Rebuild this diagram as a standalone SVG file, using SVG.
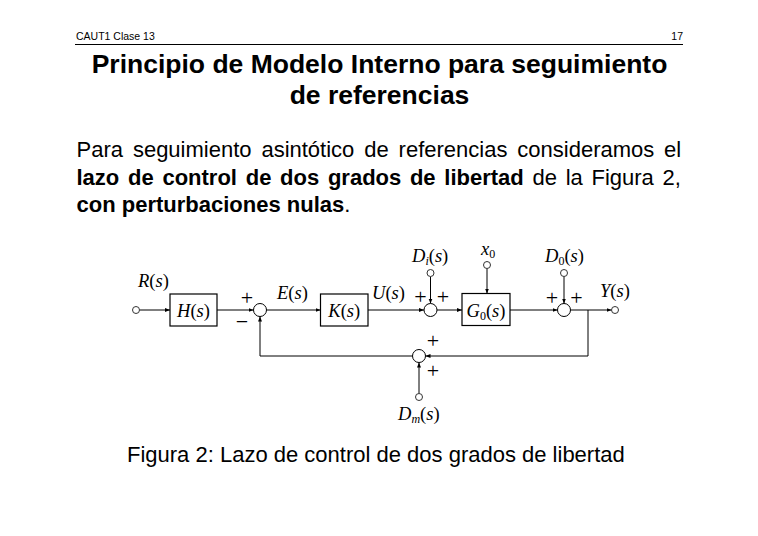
<svg xmlns="http://www.w3.org/2000/svg" width="758" height="536" viewBox="0 0 758 536">
<style>
.hdr{font-family:"Liberation Sans",Arial,sans-serif;font-size:10.5px;fill:#000}
.ttl{font-family:"Liberation Sans",Arial,sans-serif;font-size:26.5px;font-weight:bold;fill:#000}
.p{font-family:"Liberation Sans",Arial,sans-serif;font-size:22px;fill:#000}
.b{font-weight:bold}
.m{font-family:"Liberation Serif","Times New Roman",serif;font-size:18.5px;fill:#000}
.i{font-style:italic}
.sub{font-size:12px}
.box{fill:#fff;stroke:#000;stroke-width:1.2}
.sum{fill:#fff;stroke:#000;stroke-width:1}
.io{fill:#fff;stroke:#333;stroke-width:1}
.ln{fill:none;stroke:#000;stroke-width:1}
.sg{font-family:"Liberation Serif","Times New Roman",serif;font-size:22px;fill:#000;text-anchor:middle}
</style>
<defs>
<marker id="ah" viewBox="0 0 6 6" refX="6" refY="3" markerWidth="5" markerHeight="5" orient="auto" markerUnits="userSpaceOnUse">
<path d="M0,0.6 L6,3 L0,5.4 z" fill="#000"/>
</marker>
</defs>
<rect width="758" height="536" fill="#fff"/>

<g id="header">
<text class="hdr" x="76" y="39.5">CAUT1 Clase 13</text>
<text class="hdr" x="683" y="39.5" text-anchor="end">17</text>
<line x1="75" y1="44.5" x2="683" y2="44.5" stroke="#000" stroke-width="1"/>
</g>

<g id="title">
<text class="ttl" x="379.5" y="73" text-anchor="middle">Principio de Modelo Interno para seguimiento</text>
<text class="ttl" x="379.5" y="104" text-anchor="middle">de referencias</text>
</g>

<g id="paragraph">
<text class="p" y="157"><tspan x="76.5">Para</tspan><tspan x="132.9">seguimiento</tspan><tspan x="261.4">asintótico</tspan><tspan x="364.2">de</tspan><tspan x="398.6">referencias</tspan><tspan x="517.3">consideramos</tspan><tspan x="664.1">el</tspan></text>
<text class="p" y="185"><tspan class="b" x="76.5">lazo</tspan><tspan class="b" x="128">de</tspan><tspan class="b" x="162.4">control</tspan><tspan class="b" x="245.7">de</tspan><tspan class="b" x="280.1">dos</tspan><tspan class="b" x="327.9">grados</tspan><tspan class="b" x="409.9">de</tspan><tspan class="b" x="444.3">libertad</tspan><tspan x="532.5">de</tspan><tspan x="565.7">la</tspan><tspan x="591.5">Figura</tspan><tspan x="662.5">2,</tspan></text>
<text class="p" x="76.5" y="212"><tspan class="b">con perturbaciones nulas</tspan>.</text>
</g>

<g id="connectors">
<path class="ln" d="M139.5,310 H170" marker-end="url(#ah)"/>
<path class="ln" d="M217,310 H253.5" marker-end="url(#ah)"/>
<path class="ln" d="M266.5,310 H320.5" marker-end="url(#ah)"/>
<path class="ln" d="M368,310 H424" marker-end="url(#ah)"/>
<path class="ln" d="M430.5,276.5 V303.5" marker-end="url(#ah)"/>
<path class="ln" d="M437,310 H462" marker-end="url(#ah)"/>
<path class="ln" d="M487,268.5 V293.5" marker-end="url(#ah)"/>
<path class="ln" d="M510,310 H557.5" marker-end="url(#ah)"/>
<path class="ln" d="M564,276.5 V303.5" marker-end="url(#ah)"/>
<path class="ln" d="M570.5,310 H611.5" marker-end="url(#ah)"/>
<path class="ln" d="M588,310 V356 H425.5" marker-end="url(#ah)"/>
<path class="ln" d="M412.5,356 H260 V316.5" marker-end="url(#ah)"/>
<path class="ln" d="M419,393.5 V362.5" marker-end="url(#ah)"/>
</g>

<g id="R">
<circle class="io" cx="136" cy="310" r="3.5"/>
<text class="m" x="138" y="287"><tspan class="i">R</tspan>(<tspan class="i">s</tspan>)</text>
</g>

<g id="H">
<rect class="box" x="170" y="294" width="47" height="32"/>
<text class="m" x="193.5" y="317" text-anchor="middle"><tspan class="i">H</tspan>(<tspan class="i">s</tspan>)</text>
</g>

<g id="sum1">
<circle class="sum" cx="260" cy="310" r="6.5"/>
<text class="sg" x="247" y="305">+</text>
<text class="sg" x="242" y="329">−</text>
</g>

<g id="E">
<text class="m" x="277" y="299"><tspan class="i">E</tspan>(<tspan class="i">s</tspan>)</text>
</g>

<g id="K">
<rect class="box" x="320.5" y="294" width="47.5" height="32"/>
<text class="m" x="344.3" y="317" text-anchor="middle"><tspan class="i">K</tspan>(<tspan class="i">s</tspan>)</text>
</g>

<g id="U">
<text class="m" x="372" y="299"><tspan class="i">U</tspan>(<tspan class="i">s</tspan>)</text>
</g>

<g id="Di">
<circle class="io" cx="430.5" cy="273" r="3.5"/>
<text class="m" x="412" y="262"><tspan class="i">D</tspan><tspan class="i sub" dy="3">i</tspan><tspan dy="-3">(</tspan><tspan class="i">s</tspan>)</text>
</g>

<g id="sum2">
<circle class="sum" cx="430.5" cy="310" r="6.5"/>
<text class="sg" x="420.5" y="304">+</text>
<text class="sg" x="443" y="304">+</text>
</g>

<g id="x0">
<circle class="io" cx="487" cy="265" r="3.5"/>
<text class="m" x="481" y="255"><tspan class="i">x</tspan><tspan class="sub" dy="3">0</tspan></text>
</g>

<g id="G0">
<rect class="box" x="462" y="293.5" width="48" height="32"/>
<text class="m" x="486" y="317" text-anchor="middle"><tspan class="i">G</tspan><tspan class="sub" dy="3">0</tspan><tspan dy="-3">(</tspan><tspan class="i">s</tspan>)</text>
</g>

<g id="D0">
<circle class="io" cx="564" cy="273" r="3.5"/>
<text class="m" x="545" y="262"><tspan class="i">D</tspan><tspan class="sub" dy="3">0</tspan><tspan dy="-3">(</tspan><tspan class="i">s</tspan>)</text>
</g>

<g id="sum4">
<circle class="sum" cx="564" cy="310" r="6.5"/>
<text class="sg" x="552" y="305">+</text>
<text class="sg" x="576.5" y="305">+</text>
</g>

<g id="Y">
<circle class="io" cx="615" cy="310" r="3.5"/>
<text class="m" x="600" y="297"><tspan class="i">Y</tspan>(<tspan class="i">s</tspan>)</text>
</g>

<g id="sum3">
<circle class="sum" cx="419" cy="356" r="6.5"/>
<text class="sg" x="433" y="348">+</text>
<text class="sg" x="433" y="378">+</text>
</g>

<g id="Dm">
<circle class="io" cx="419" cy="397" r="3.5"/>
<text class="m" x="398" y="420"><tspan class="i">D</tspan><tspan class="i sub" dy="3">m</tspan><tspan dy="-3">(</tspan><tspan class="i">s</tspan>)</text>
</g>

<g id="caption">
<text class="p" x="127" y="462">Figura 2: Lazo de control de dos grados de libertad</text>
</g>
</svg>
